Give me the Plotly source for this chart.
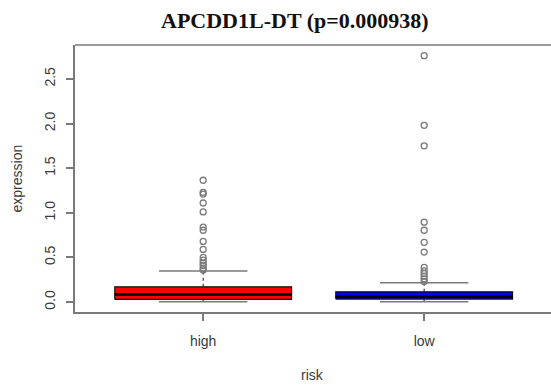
import plotly.graph_objects as go

# Group labels and summary statistics per risk group
groups = ["high", "low"]
positions = [1, 2]
box_colors = ["#FF0000", "#0000FF"]
lower_whisker = [0.003, 0.003]
q1 = [0.030, 0.034]
median = [0.086, 0.060]
q3 = [0.171, 0.115]
upper_whisker = [0.347, 0.216]

# Outlying expression values per group
outliers_high = [1.365, 1.23, 1.21, 1.11, 1.01, 0.84, 0.805, 0.68, 0.59,
                 0.50, 0.47, 0.44, 0.41, 0.38, 0.36]
outliers_low = [2.76, 1.98, 1.75, 0.895, 0.805, 0.67, 0.56,
                0.39, 0.35, 0.32, 0.29, 0.26, 0.23]
outliers = [outliers_high, outliers_low]

y_ticks = [0.0, 0.5, 1.0, 1.5, 2.0, 2.5]

BOX_HALF = 0.4
STAPLE_HALF = 0.2
GREY = "#7a7a7a"
TEXT = "#3a3a3a"
SANS = "Liberation Sans, Arial, sans-serif"

fig = go.Figure()

for i, pos in enumerate(positions):
    # whisker (dashed) from box edges to the staples
    fig.add_trace(go.Scatter(
        x=[pos, pos, None, pos, pos],
        y=[q3[i], upper_whisker[i], None, q1[i], lower_whisker[i]],
        mode="lines", line=dict(color=TEXT, width=1.2, dash="3px,3px"),
        hoverinfo="skip", showlegend=False))
    # staples
    fig.add_trace(go.Scatter(
        x=[pos - STAPLE_HALF, pos + STAPLE_HALF, None,
           pos - STAPLE_HALF, pos + STAPLE_HALF],
        y=[upper_whisker[i], upper_whisker[i], None,
           lower_whisker[i], lower_whisker[i]],
        mode="lines", line=dict(color=GREY, width=1.5),
        hoverinfo="skip", showlegend=False))
    # box
    fig.add_trace(go.Scatter(
        x=[pos - BOX_HALF, pos + BOX_HALF, pos + BOX_HALF, pos - BOX_HALF, pos - BOX_HALF],
        y=[q1[i], q1[i], q3[i], q3[i], q1[i]],
        mode="lines", fill="toself", fillcolor=box_colors[i],
        line=dict(color="#111111", width=1.2),
        hoverinfo="skip", showlegend=False))
    # median
    fig.add_trace(go.Scatter(
        x=[pos - BOX_HALF, pos + BOX_HALF],
        y=[median[i], median[i]],
        mode="lines", line=dict(color="#000000", width=2.6),
        hoverinfo="skip", showlegend=False))
    # outliers
    fig.add_trace(go.Scatter(
        x=[pos] * len(outliers[i]), y=outliers[i],
        mode="markers",
        marker=dict(symbol="circle-open", size=6, color=GREY, line=dict(width=1.3)),
        showlegend=False))

axis_line = dict(showline=True, linecolor=GREY, linewidth=1.5,
                 ticks="outside", ticklen=7, tickcolor=GREY, tickwidth=1.5,
                 showgrid=False, zeroline=False,
                 tickfont=dict(family=SANS, size=14, color=TEXT))

fig.update_layout(
    width=551, height=387,
    margin=dict(l=75, r=0, t=45, b=75),
    paper_bgcolor="white", plot_bgcolor="white",
    xaxis=dict(range=[0.42, 2.574], tickvals=positions, ticktext=groups,
               ticklabelstandoff=8, fixedrange=True, **axis_line),
    yaxis=dict(range=[-0.111, 2.88], tickvals=y_ticks, tickformat=".1f",
               tickangle=-90, ticklabelstandoff=6, fixedrange=True, **axis_line),
    shapes=[dict(type="line", xref="paper", yref="paper", x0=0, x1=1, y0=1, y1=1,
                 line=dict(color=GREY, width=1.5))],
    annotations=[
        dict(text="<b>APCDD1L-DT (p=0.000938)</b>", xref="paper", yref="paper",
             x=0.462, y=1, yshift=25, showarrow=False, xanchor="center", yanchor="middle",
             font=dict(family="Liberation Serif, Times New Roman, serif", size=22,
                       color="#111111")),
        dict(text="risk", xref="paper", yref="paper", x=0.499, y=0, yshift=-63,
             showarrow=False, xanchor="center", yanchor="middle",
             font=dict(family=SANS, size=14, color=TEXT)),
        dict(text="expression", xref="paper", yref="paper", x=0, xshift=-59, y=0.5,
             textangle=-90, showarrow=False, xanchor="center", yanchor="middle",
             font=dict(family=SANS, size=14, color=TEXT)),
    ],
)

fig.write_html("out.html")
